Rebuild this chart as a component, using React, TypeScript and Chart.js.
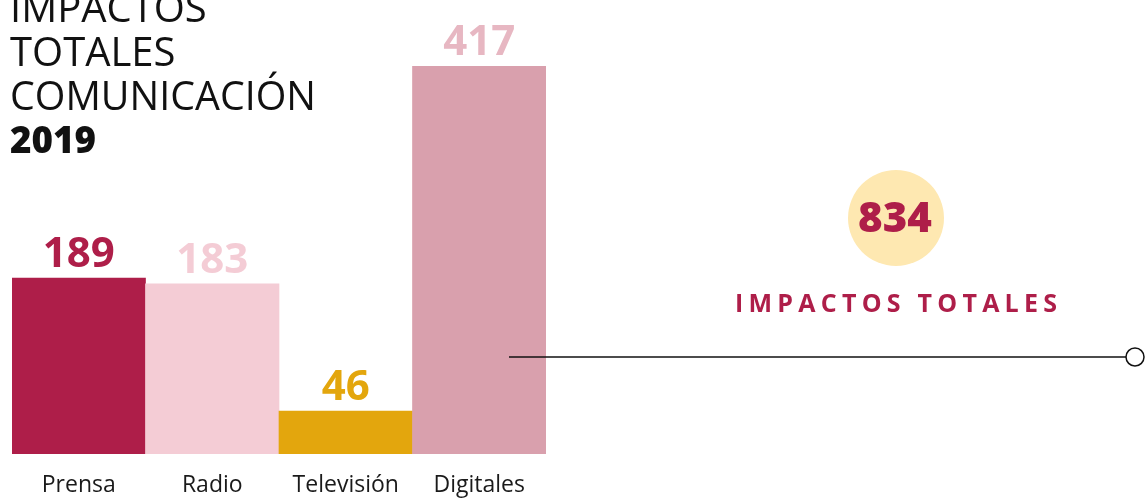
import React, { useEffect, useRef } from "react";
import { Chart, registerables } from "chart.js";

Chart.register(...registerables);

const categories = ["Prensa", "Radio", "Televisión", "Digitales"];
const values = [189, 183, 46, 417];
const barColors = ["#ae1e49", "#f4ccd5", "#e3a60d", "#d9a0ad"];
const labelColors = ["#ae1e49", "#f4ccd5", "#e3a60d", "#e7b7c2"];
const titleLines = ["IMPACTOS", "TOTALES", "COMUNICACIÓN"];
const titleYear = "2019";
const totalValue = "834";
const totalLabel = "IMPACTOS TOTALES";

const W = 1145;
const H = 498;

const overlayPlugin = {
  id: "overlay",
  afterDraw(chart: any) {
    const ctx = chart.ctx as CanvasRenderingContext2D;
    const xs = chart.scales.x;
    const ys = chart.scales.y;
    ctx.save();

    // Title
    ctx.fillStyle = "#111";
    ctx.textAlign = "left";
    ctx.textBaseline = "alphabetic";
    ctx.font = "400 40px 'Open Sans'";
    const tb = [22, 66, 110];
    titleLines.forEach((t, i) => ctx.fillText(t, 10, tb[i], 306));
    ctx.font = "800 37px 'Open Sans'";
    ctx.fillText(titleYear, 10, 153, 86);

    // Value labels
    ctx.textAlign = "center";
    ctx.font = "700 42px 'Open Sans'";
    values.forEach((v, i) => {
      ctx.fillStyle = labelColors[i];
      ctx.fillText(String(v), xs.getPixelForValue(i), ys.getPixelForValue(v) - 11);
    });

    // Category labels
    ctx.fillStyle = "#1a1a1a";
    ctx.font = "400 23px 'Open Sans'";
    categories.forEach((c, i) => {
      ctx.fillText(c, xs.getPixelForValue(i), 492);
    });

    // Connector line and marker
    ctx.strokeStyle = "#111";
    ctx.lineWidth = 1.5;
    ctx.beginPath();
    ctx.moveTo(509, 357);
    ctx.lineTo(1126, 357);
    ctx.stroke();
    ctx.beginPath();
    ctx.arc(1135, 357, 9, 0, Math.PI * 2);
    ctx.fillStyle = "#fff";
    ctx.fill();
    ctx.stroke();

    // Total bubble
    ctx.beginPath();
    ctx.arc(896, 218, 48, 0, Math.PI * 2);
    ctx.fillStyle = "#fee8b1";
    ctx.fill();
    ctx.fillStyle = "#ae1e49";
    ctx.font = "800 42px 'Open Sans'";
    ctx.fillText(totalValue, 895, 232);

    // Total label with letter spacing
    ctx.font = "700 25px 'Open Sans'";
    const natural = ctx.measureText(totalLabel).width;
    const ls = (322 - natural) / (totalLabel.length - 1);
    (ctx as any).letterSpacing = ls + "px";
    ctx.textAlign = "left";
    ctx.fillText(totalLabel, 735, 312);
    (ctx as any).letterSpacing = "0px";

    ctx.restore();
  },
};

export default function App() {
  const ref = useRef<HTMLCanvasElement>(null);

  useEffect(() => {
    document.body.style.margin = "0";
    const chart = new Chart(ref.current!, {
      type: "bar",
      data: {
        labels: categories,
        datasets: [
          {
            data: values,
            backgroundColor: barColors,
            borderWidth: 0,
            categoryPercentage: 1,
            barPercentage: 1,
          },
        ],
      },
      options: {
        responsive: false,
        animation: false,
        layout: { padding: { left: 12, right: W - 546, top: 66, bottom: H - 454 } },
        plugins: { legend: { display: false }, tooltip: { enabled: false } },
        scales: {
          x: { display: false },
          y: { display: false, min: 0, max: 417 },
        },
      },
      plugins: [overlayPlugin],
    });
    return () => chart.destroy();
  }, []);

  return (
    <div style={{ position: "fixed", left: 0, top: 0, width: W, height: H, background: "#fff" }}>
      <canvas ref={ref} width={W} height={H} style={{ width: W, height: H, display: "block" }} />
    </div>
  );
}
